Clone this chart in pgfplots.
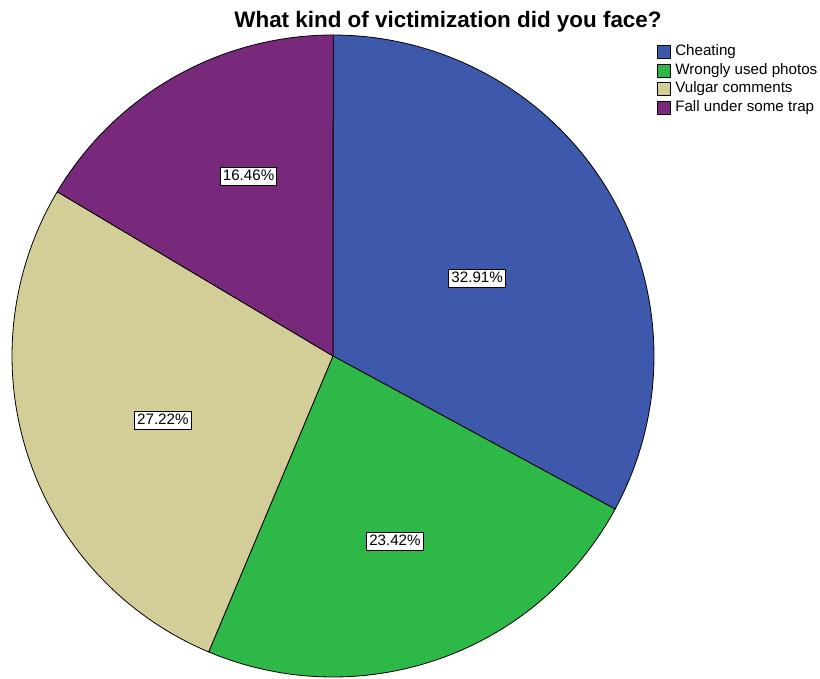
\documentclass[border=0pt]{standalone}
\usepackage{fontspec}
\setmainfont{Liberation Sans}
\usepackage{pgfplots}
\pgfplotsset{compat=1.18}
\definecolor{cblue}{RGB}{62,88,172}
\definecolor{cgreen}{RGB}{46,184,72}
\definecolor{ctan}{RGB}{211,206,151}
\definecolor{cpurple}{RGB}{121,41,124}
% percentages
\def\pA{32.91}\def\pB{23.42}\def\pC{27.22}\def\pD{16.46}
\pgfmathsetmacro\aZ{90}
\pgfmathsetmacro\aA{\aZ-3.6*\pA}
\pgfmathsetmacro\aB{\aA-3.6*\pB}
\pgfmathsetmacro\aC{\aB-3.6*\pC}
\pgfmathsetmacro\aD{\aC-3.6*\pD}
\newcommand{\slice}[3]{%
  \addplot[fill=#1, draw=black, line width=0.8bp, line join=round, domain=-1:101, samples=103, variable=\t]
    ({(\t<0 || \t>100) ? 0 : cos(#2+(#3-#2)*\t/100)},
     {(\t<0 || \t>100) ? 0 : sin(#2+(#3-#2)*\t/100)});}
\begin{document}
\begin{tikzpicture}
\path[use as bounding box] (0,0) rectangle (820bp,679bp);
\node[anchor=base, font=\bfseries\fontsize{22.5}{25}\selectfont] at (448bp,651bp) {What kind of victimization did you face?};
\begin{axis}[
  at={(12bp,2bp)}, anchor=south west,
  scale only axis, width=642bp, height=642bp,
  xmin=-1, xmax=1, ymin=-1, ymax=1,
  hide axis, clip=false,
  area legend,
  legend image code/.code={\draw[#1, draw=black, line width=0.6bp] (0bp,-6.5bp) rectangle (13bp,6.5bp);},
  legend style={at={(1.0000,0.9883)}, anchor=north west, draw=none, fill=none,
    font=\fontsize{15.2}{17}\selectfont, column sep=4.5bp, row sep=4bp,
    nodes={inner sep=0pt, text height=11bp, text depth=3.5bp},
    cells={anchor=west}},
]
\slice{cblue}{\aZ}{\aA}
\slice{cgreen}{\aA}{\aB}
\slice{ctan}{\aB}{\aC}
\slice{cpurple}{\aC}{\aD}
\legend{Cheating, Wrongly used photos, Vulgar comments, Fall under some trap}
\addplot[forget plot, only marks, mark=none, point meta=explicit symbolic,
  nodes near coords,
  nodes near coords style={anchor=center, draw=black, line width=1bp, fill=white,
    font=\fontsize{15.2}{17}\selectfont, inner xsep=2.5bp, inner ysep=0pt,
    text height=11bp, text depth=3.5bp, minimum height=18bp}]
  coordinates {
    (0.449,0.240) [32.91\%]
    (0.193,-0.579) [23.42\%]
    (-0.530,-0.202) [27.22\%]
    (-0.263,0.558) [16.46\%]
  };
\end{axis}
\end{tikzpicture}
\end{document}
